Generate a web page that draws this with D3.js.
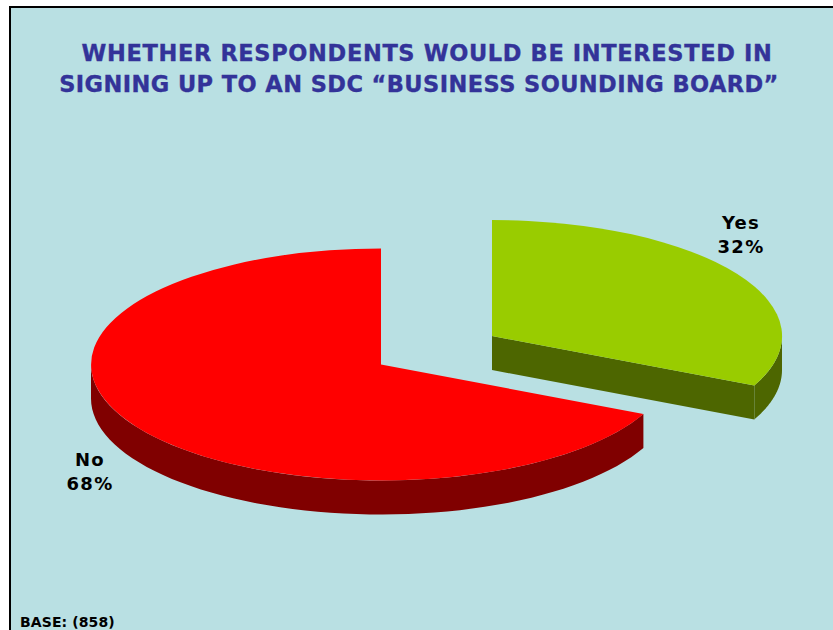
<!DOCTYPE html>
<html>
<head>
<meta charset="utf-8">
<script src="https://cdn.jsdelivr.net/npm/d3@7"></script>
<style>
html,body{margin:0;padding:0;background:#fff;overflow:hidden}
svg{display:block}
text{font-family:"DejaVu Sans",Verdana,sans-serif;font-weight:bold}
</style>
</head>
<body>
<svg id="chart" width="833" height="630"></svg>
<script>
// Survey result
const categories = ["Yes", "No"];
const shares = [32, 68];
const titleLines = [
  "WHETHER RESPONDENTS WOULD BE INTERESTED IN",
  "SIGNING UP TO AN SDC \u201CBUSINESS SOUNDING BOARD\u201D"
];
const baseNote = "BASE: (858)";

// Slice styling, keyed by category
const topColors = {Yes: "#99cc00", No: "#ff0000"};
const wallColors = {Yes: "#4d6600", No: "#800000"};

// Tilted-pie geometry
const rx = 290, ry = 116, depth = 34;
const centers = {Yes: [492, 336], No: [381, 364.5]};
const labelAnchors = {Yes: [741, 229], No: [90, 466]};

// Title line placement
const titleStyle = [
  {x: 427, y: 61, spacing: 0.64},
  {x: 419, y: 92, spacing: 0.42}
];

const svg = d3.select("#chart");

// Panel and frame
svg.append("rect").attr("x", 10).attr("y", 7).attr("width", 840).attr("height", 640)
  .attr("fill", "#b9e0e3").attr("stroke", "#000").attr("stroke-width", 2);

// Title
svg.append("g").selectAll("text").data(titleLines).join("text")
  .attr("x", (d, i) => titleStyle[i].x).attr("y", (d, i) => titleStyle[i].y)
  .attr("text-anchor", "middle").attr("font-size", 22.5)
  .attr("letter-spacing", (d, i) => titleStyle[i].spacing)
  .attr("fill", "#333399").attr("stroke", "#333399").attr("stroke-width", 0.35)
  .text(d => d);

const pie = d3.pie().sort(null).value(d => d.value)
  .startAngle(0).endAngle(2 * Math.PI);
const slices = pie(categories.map((c, i) => ({name: c, value: shares[i]})));

const unitArc = d3.arc().innerRadius(0).outerRadius(1);
const px = (a, c) => c[0] + rx * Math.sin(a);
const py = (a, c) => c[1] - ry * Math.cos(a);

// Outer wall: the rim between the given angles, swept down by the depth
const wall = (a0, a1, c) => {
  const steps = d3.range(0, 61).map(i => a0 + (a1 - a0) * i / 60);
  return d3.area()
    .x(a => px(a, c))
    .y0(a => py(a, c))
    .y1(a => py(a, c) + depth)(steps);
};

const pieGroup = svg.append("g");
slices.forEach(s => {
  const name = s.data.name, c = centers[name];
  const g = pieGroup.append("g");

  // Only the front half of the rim faces the viewer
  const a0 = Math.max(s.startAngle, Math.PI / 2);
  const a1 = Math.min(s.endAngle, 3 * Math.PI / 2);
  if (a1 > a0) {
    g.append("path").attr("d", wall(a0, a1, c)).attr("fill", wallColors[name]);
  }

  // Cut face along the closing edge, visible when it points toward the viewer
  if (s.endAngle < Math.PI) {
    const ex = px(s.endAngle, c), ey = py(s.endAngle, c);
    g.append("path")
      .attr("d", `M${c[0]},${c[1]}L${ex},${ey}L${ex},${ey + depth}L${c[0]},${c[1] + depth}Z`)
      .attr("fill", wallColors[name]);
  }

  // Top surface
  g.append("path").attr("d", unitArc(s))
    .attr("transform", `translate(${c[0]},${c[1]}) scale(${rx},${ry})`)
    .attr("fill", topColors[name]);
});

// Slice labels
const labels = svg.append("g");
slices.forEach(s => {
  const name = s.data.name, a = labelAnchors[name];
  [name, s.data.value + "%"].forEach((t, i) => {
    labels.append("text").attr("x", a[0]).attr("y", a[1] + i * 23.5)
      .attr("text-anchor", "middle").attr("font-size", 18)
      .attr("letter-spacing", 1.3).attr("fill", "#000").text(t);
  });
});

// Sample-size note
svg.append("text").attr("x", 20).attr("y", 626.5)
  .attr("font-size", 14).attr("letter-spacing", 0.1)
  .attr("fill", "#000").text(baseNote);
</script>
</body>
</html>
